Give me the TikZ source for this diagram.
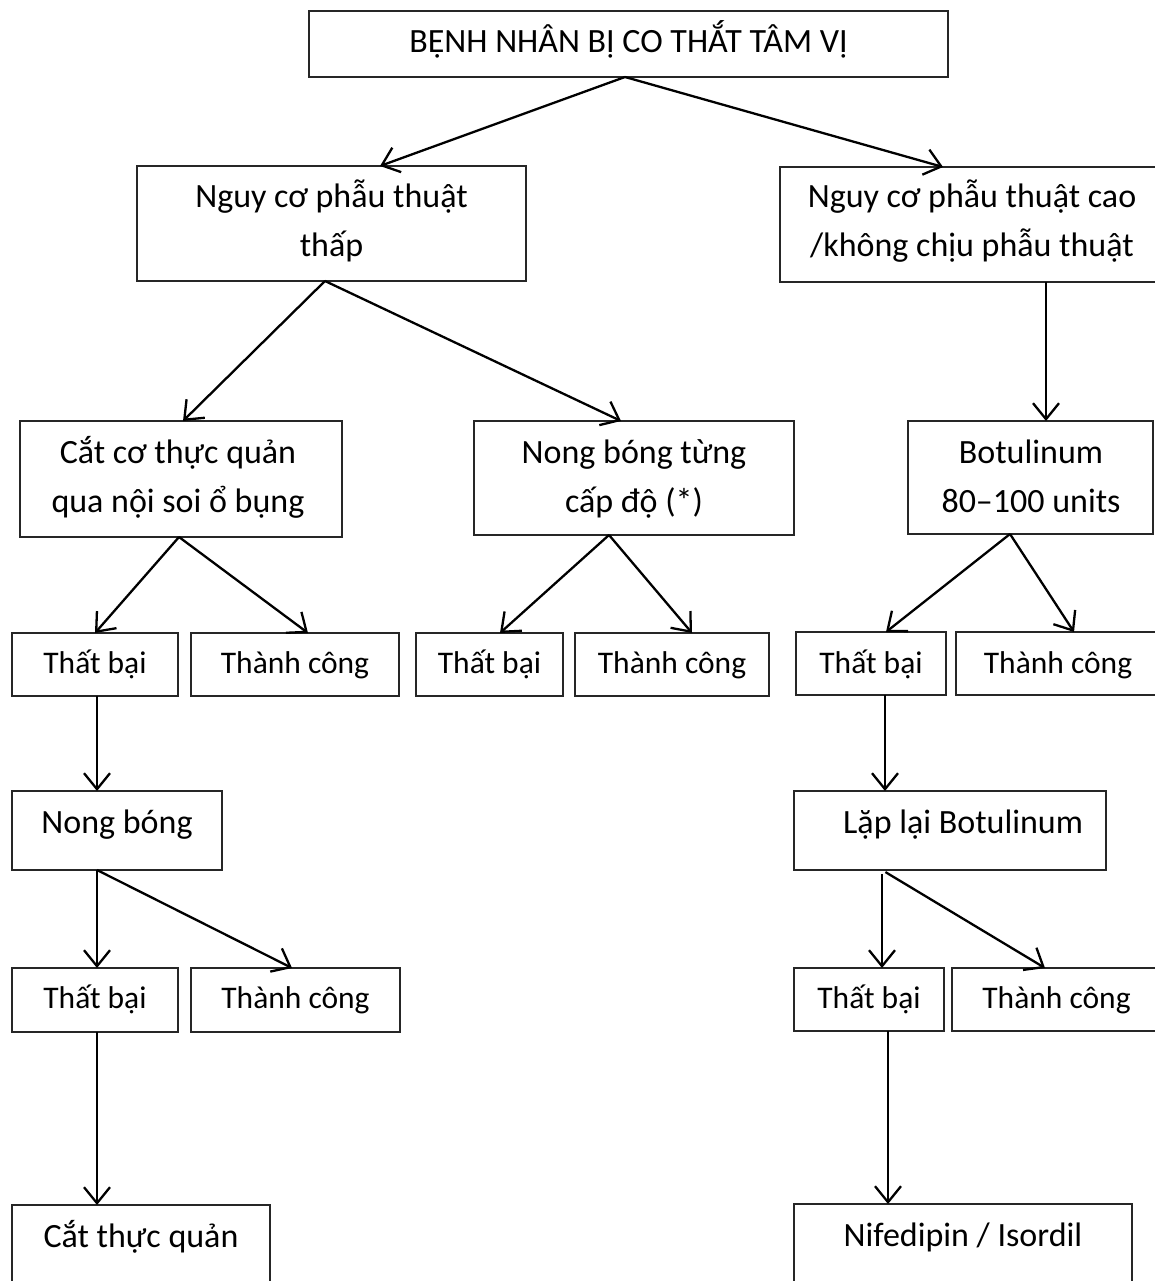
\documentclass[tikz,border=0pt]{standalone}
\usepackage{fontspec}
\setmainfont{Carlito}
\usetikzlibrary{arrows.meta}
\newcommand\bigf{\fontsize{34}{49}\selectfont}
\newcommand\smf{\fontsize{31.5}{45}\selectfont}
\begin{document}
\begin{tikzpicture}[x=1pt,y=-1pt,
  bx/.style={draw=black!85, line width=1.6pt, inner sep=0pt, outer sep=0pt, rectangle},
  bigtxt/.style={anchor=base, inner sep=0pt, font=\bigf},
  smtxt/.style={anchor=base, inner sep=0pt, font=\smf},
  arr/.style={line width=2.3pt, -{Straight Barb[length=16pt,width=26pt]}}
]
\useasboundingbox (0,0) rectangle (1155,1281);
\clip (0,0) rectangle (1155,1281);

% ---- boxes ----
\node[bx, minimum width=639pt, minimum height=66pt] (top) at (628.5,44) {};
\node[bx, minimum width=389pt, minimum height=115pt] (low) at (331.5,223.5) {};
\node[bx, minimum width=390pt, minimum height=115pt] (high) at (975,224.5) {};
\node[bx, minimum width=322pt, minimum height=116pt] (cutco) at (181,479) {};
\node[bx, minimum width=320pt, minimum height=114pt] (nongtung) at (634,478) {};
\node[bx, minimum width=245pt, minimum height=113pt] (botu) at (1030.5,477.5) {};

\node[bx, minimum width=166pt, minimum height=63pt] (tba) at (95,664.5) {};
\node[bx, minimum width=208pt, minimum height=63pt] (tca) at (295,664.5) {};
\node[bx, minimum width=147pt, minimum height=63pt] (tbb) at (489.5,664.5) {};
\node[bx, minimum width=194pt, minimum height=63pt] (tcb) at (672,664.5) {};
\node[bx, minimum width=150pt, minimum height=63pt] (tbc) at (871,663.5) {};
\node[bx, minimum width=204pt, minimum height=63pt] (tcc) at (1058,663.5) {};

\node[bx, minimum width=210pt, minimum height=79pt] (nb) at (117,830.5) {};
\node[bx, minimum width=312pt, minimum height=79pt] (ll) at (950,830.5) {};

\node[bx, minimum width=166pt, minimum height=64pt] (tbd) at (95,1000) {};
\node[bx, minimum width=209pt, minimum height=64pt] (tcd) at (295.5,1000) {};
\node[bx, minimum width=150pt, minimum height=63pt] (tbe) at (869,999.5) {};
\node[bx, minimum width=209pt, minimum height=63pt] (tce) at (1056.5,999.5) {};

\node[bx, minimum width=258pt, minimum height=95pt] (ctq) at (141,1252.5) {};
\node[bx, minimum width=338pt, minimum height=96pt] (nife) at (963,1252) {};

% ---- texts ----
\node[bigtxt] (ttop) at (628.5,53) {BỆNH NHÂN BỊ CO THẮT TÂM VỊ};
\node[bigtxt] (tlow1) at (331.5,208) {Nguy cơ phẫu thuật};
\node[bigtxt] (tlow2) at (331.5,257) {thấp};
\node[bigtxt] (thigh1) at (972,208) {Nguy cơ phẫu thuật cao};
\node[bigtxt] (thigh2) at (972,257) {/không chịu phẫu thuật};
\node[bigtxt] (tcut1) at (178,463) {Cắt cơ thực quản};
\node[bigtxt] (tcut2) at (178,512) {qua nội soi ổ bụng};
\node[bigtxt] (tnt1) at (634,463) {Nong bóng từng};
\node[bigtxt] (tnt2) at (634,512) {cấp độ (*)};
\node[bigtxt] (tbo1) at (1031,463) {Botulinum};
\node[bigtxt] (tbo2) at (1031,512) {80–100 units};

\node[smtxt] (ttba) at (95,673) {Thất bại};
\node[smtxt] (ttca) at (295,673) {Thành công};
\node[smtxt] (ttbb) at (489.5,673) {Thất bại};
\node[smtxt] (ttcb) at (672,673) {Thành công};
\node[smtxt] (ttbc) at (871,673) {Thất bại};
\node[smtxt] (ttcc) at (1058,673) {Thành công};

\node[bigtxt] (tnb) at (117,833) {Nong bóng};
\node[bigtxt, anchor=base west] (tll) at (843,833) {Lặp lại Botulinum};

\node[smtxt] (ttbd) at (95,1008) {Thất bại};
\node[smtxt] (ttcd) at (295.5,1008) {Thành công};
\node[smtxt] (ttbe) at (869,1008) {Thất bại};
\node[smtxt] (ttce) at (1056.5,1008) {Thành công};

\node[bigtxt] (tctq) at (141,1247) {Cắt thực quản};
\node[bigtxt] (tnife) at (963,1246) {Nifedipin / Isordil};

% ---- connectors ----
\draw[arr] ([xshift=-3.5pt]top.south) -- ([xshift=48.5pt]low.north);
\draw[arr] ([xshift=-3.5pt]top.south) -- ([xshift=-32pt]high.north);
\draw[arr] ([xshift=-6.5pt]low.south) -- ([xshift=2pt]cutco.north);
\draw[arr] ([xshift=-6.5pt]low.south) -- ([xshift=-13pt]nongtung.north);
\draw[arr] ([xshift=71pt]high.south) -- ([xshift=15.5pt]botu.north);
\draw[arr] ([xshift=-2pt]cutco.south) -- ([xshift=0pt]tba.north);
\draw[arr] ([xshift=-2pt]cutco.south) -- ([xshift=13pt]tca.north);
\draw[arr] ([xshift=-25pt]nongtung.south) -- ([xshift=10.5pt]tbb.north);
\draw[arr] ([xshift=-25pt]nongtung.south) -- ([xshift=20pt]tcb.north);
\draw[arr] ([xshift=-20.5pt]botu.south) -- ([xshift=15pt]tbc.north);
\draw[arr] ([xshift=-20.5pt]botu.south) -- ([xshift=16pt]tcc.north);
\draw[arr] ([xshift=2pt]tba.south) -- ([xshift=-20pt]nb.north);
\draw[arr] ([xshift=14pt]tbc.south) -- ([xshift=-65pt]ll.north);
\draw[arr] ([xshift=-20pt]nb.south) -- ([xshift=2pt]tbd.north);
\draw[arr] ([xshift=-20pt]nb.south) -- ([xshift=-3.5pt]tcd.north);
\draw[arr, shorten <=4pt] ([xshift=-68pt]ll.south) -- ([xshift=13pt]tbe.north);
\draw[arr, shorten <=4pt] ([xshift=-68pt]ll.south) -- ([xshift=-11.5pt]tce.north);
\draw[arr] ([xshift=2pt]tbd.south) -- ([xshift=-44pt]ctq.north);
\draw[arr] ([xshift=19pt]tbe.south) -- ([xshift=-75pt]nife.north);
\end{tikzpicture}
\end{document}
